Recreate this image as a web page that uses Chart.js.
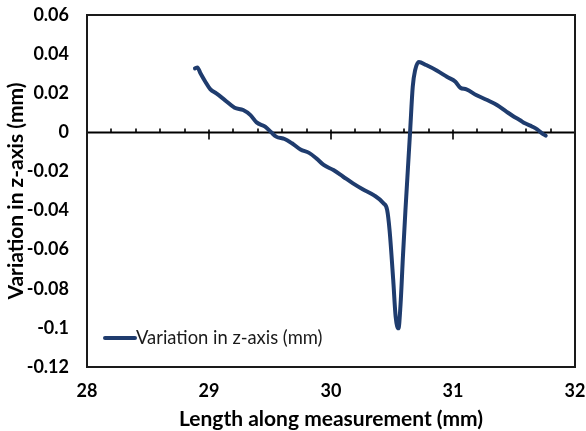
<!DOCTYPE html>
<html>
<head>
<meta charset="utf-8">
<script src="https://cdn.jsdelivr.net/npm/chart.js@4.4.1/dist/chart.umd.min.js"></script>
<style>
  html, body { margin: 0; padding: 0; background: #fff; }
  #wrap { width: 586px; height: 431px; }
</style>
</head>
<body>
<div id="wrap"><canvas id="c" width="586" height="431"></canvas></div>
<script>
// ---- data ----
const seriesLabel = 'Variation in z-axis (mm)';
const xValues = [28.885, 28.905, 28.93, 28.97, 29.01, 29.06, 29.13, 29.21, 29.28, 29.34, 29.39, 29.46, 29.51, 29.55, 29.62, 29.68, 29.75, 29.82, 29.88, 29.94, 30.02, 30.10, 30.18, 30.26, 30.35, 30.43, 30.46, 30.48, 30.51, 30.53, 30.553, 30.57, 30.59, 30.61, 30.63, 30.648, 30.67, 30.69, 30.72, 30.78, 30.87, 30.95, 31.02, 31.06, 31.11, 31.19, 31.28, 31.36, 31.44, 31.50, 31.55, 31.59, 31.65, 31.69, 31.73, 31.76];
const zValues = [0.0327, 0.0332, 0.0302, 0.0259, 0.0221, 0.0199, 0.0165, 0.0126, 0.0114, 0.0088, 0.0051, 0.0029, 0.0000, -0.0022, -0.0034, -0.0056, -0.0088, -0.0105, -0.0133, -0.0167, -0.0193, -0.0227, -0.0261, -0.0291, -0.0321, -0.0363, -0.0397, -0.0500, -0.0755, -0.0943, -0.1002, -0.0880, -0.0630, -0.0400, -0.0190, 0.0000, 0.0233, 0.0319, 0.0360, 0.0344, 0.0315, 0.0284, 0.0259, 0.0228, 0.0220, 0.0191, 0.0165, 0.0140, 0.0105, 0.0080, 0.0062, 0.0046, 0.0029, 0.0015, -0.0005, -0.0017];
const xTickLabels = ['28', '29', '30', '31', '32'];
const yTickValues = [0.06, 0.04, 0.02, 0, -0.02, -0.04, -0.06, -0.08, -0.1, -0.12];
const yTickLabels = ['0.06', '0.04', '0.02', '0', '-0.02', '-0.04', '-0.06', '-0.08', '-0.1', '-0.12'];
const xTitle = 'Length along measurement (mm)';
const yTitle = 'Variation in z-axis (mm)';

const lineColor = '#1f3c6e';
const FONT = 'Lato';

const points = xValues.map((x, i) => ({ x: x, y: zValues[i] }));

function noOverhang(s) {
  s.paddingLeft = 0; s.paddingRight = 0; s.paddingTop = 0; s.paddingBottom = 0;
}

// frame + zero axis with tick marks + in-plot legend
const framePlugin = {
  id: 'frame',
  beforeDatasetsDraw(chart) {
    const { ctx, chartArea: a, scales: { x, y } } = chart;
    const y0 = Math.round(y.getPixelForValue(0)) + 0.5;
    ctx.save();
    ctx.strokeStyle = '#000';
    ctx.lineWidth = 2;
    ctx.beginPath();
    ctx.moveTo(a.left, y0);
    ctx.lineTo(a.right, y0);
    ctx.stroke();
    ctx.lineWidth = 1.6;
    for (let v = x.min; v <= x.max + 1e-9; v += 0.2) {
      const px = Math.round(x.getPixelForValue(v));
      const major = Math.abs(v - Math.round(v)) < 1e-6;
      ctx.beginPath();
      if (major) {
        ctx.moveTo(px, y0 - 3);
        ctx.lineTo(px, y0 + 7);
      } else {
        ctx.moveTo(px, y0 - 4);
        ctx.lineTo(px, y0);
      }
      ctx.stroke();
    }
    ctx.restore();
  },
  afterDatasetsDraw(chart) {
    const { ctx, chartArea: a } = chart;
    ctx.save();
    ctx.strokeStyle = '#1a1a1a';
    ctx.lineWidth = 2;
    ctx.strokeRect(a.left, a.top, a.right - a.left, a.bottom - a.top);
    const ds = chart.data.datasets[0];
    const lx = a.left + 18, ly = a.bottom - 29;
    ctx.strokeStyle = ds.borderColor;
    ctx.lineWidth = 4;
    ctx.lineCap = 'round';
    ctx.beginPath();
    ctx.moveTo(lx, ly);
    ctx.lineTo(lx + 30, ly);
    ctx.stroke();
    ctx.fillStyle = '#1a1a1a';
    ctx.font = '18.4px ' + FONT;
    ctx.textBaseline = 'middle';
    ctx.textAlign = 'left';
    ctx.fillText(ds.label, lx + 31, ly);
    ctx.restore();
  }
};

new Chart(document.getElementById('c'), {
  type: 'line',
  data: {
    datasets: [{
      label: seriesLabel,
      data: points,
      borderColor: lineColor,
      backgroundColor: lineColor,
      borderWidth: 4,
      pointRadius: 0,
      cubicInterpolationMode: 'monotone',
      borderCapStyle: 'round',
      borderJoinStyle: 'round',
      fill: false
    }]
  },
  options: {
    responsive: false,
    animation: false,
    events: [],
    layout: { padding: { left: 0, top: 15, right: 11, bottom: 0 } },
    plugins: { legend: { display: false }, tooltip: { enabled: false } },
    scales: {
      x: {
        type: 'linear',
        min: 28, max: 32,
        grid: { display: false, drawTicks: false },
        border: { display: false },
        afterFit(s) { s.height = 64; noOverhang(s); },
        ticks: {
          stepSize: 1,
          color: '#000',
          padding: 13,
          maxRotation: 0,
          font: { family: FONT, size: 18, weight: 'bold' },
          callback: (v) => { const i = Math.round(v - 28); return xTickLabels[i] !== undefined ? xTickLabels[i] : ''; }
        },
        title: {
          display: true, text: xTitle, color: '#000',
          font: { family: FONT, size: 21, weight: 'bold' },
          padding: { top: 0, bottom: -1 }
        }
      },
      y: {
        min: -0.12, max: 0.06,
        grid: { display: false, drawTicks: false },
        border: { display: false },
        afterFit(s) { s.width = 87; noOverhang(s); },
        afterBuildTicks(s) { s.ticks = yTickValues.map(v => ({ value: v })); },
        ticks: {
          color: '#000',
          padding: 18,
          font: { family: FONT, size: 18, weight: 'bold' },
          callback: (v) => {
            const i = yTickValues.findIndex(t => Math.abs(t - v) < 1e-9);
            return i >= 0 ? yTickLabels[i] : '';
          }
        },
        title: {
          display: true, text: yTitle, color: '#000',
          font: { family: FONT, size: 21, weight: 'bold' },
          padding: { top: 4, bottom: 0 }
        }
      }
    }
  },
  plugins: [framePlugin]
});
</script>
</body>
</html>
